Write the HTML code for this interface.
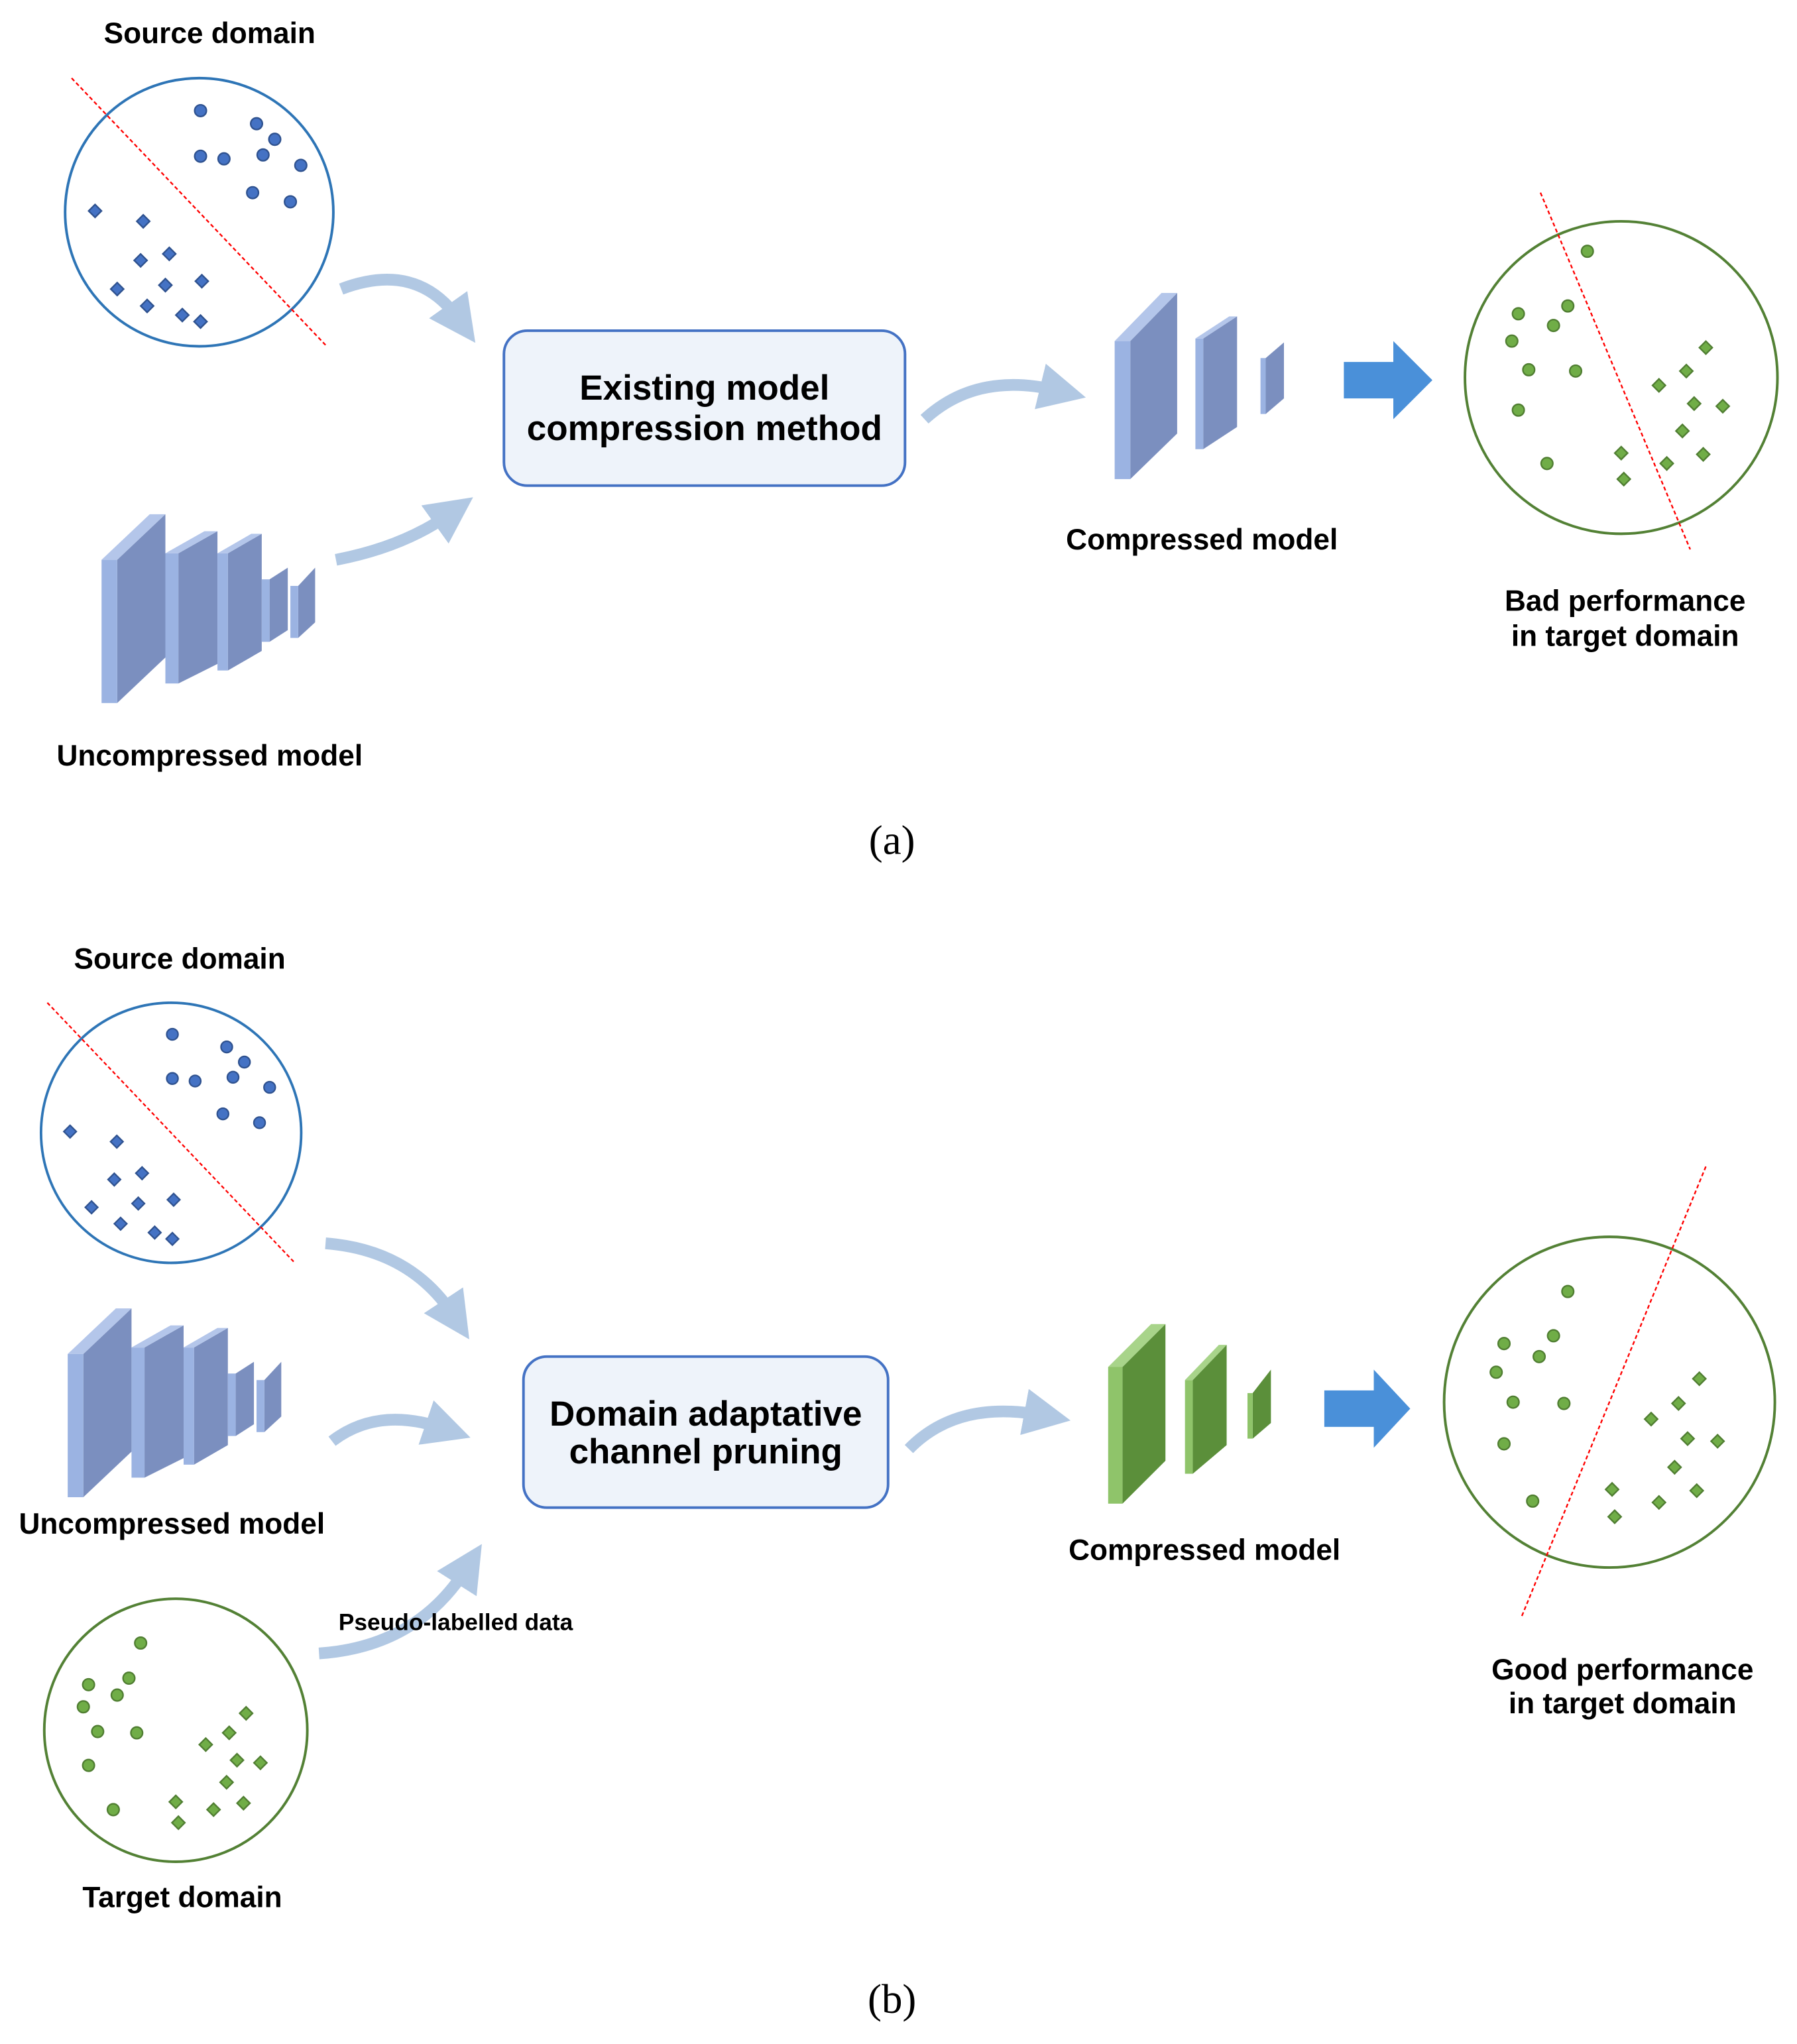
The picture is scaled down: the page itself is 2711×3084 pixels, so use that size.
<!DOCTYPE html>
<html><head><meta charset="utf-8"><style>
html,body{margin:0;padding:0;background:#fff}
svg{display:block}
text{font-family:"Liberation Sans",sans-serif;font-weight:bold;fill:#000;text-anchor:middle}
</style></head><body>
<svg width="2711" height="3084" viewBox="0 0 1380 1570" preserveAspectRatio="none" xmlns="http://www.w3.org/2000/svg">
<defs>
<marker id="ah" markerWidth="4" markerHeight="4" refX="1.5" refY="2" orient="auto" markerUnits="strokeWidth">
<path d="M0,0 L4,2 L0,4 z" fill="#a9c3e0"/></marker>
<g id="bd"><circle r="4.5" fill="#4472c4" stroke="#2f528f" stroke-width="1.2"/></g>
<g id="bq"><rect x="-3.5" y="-3.5" width="7" height="7" fill="#4472c4" stroke="#2f528f" stroke-width="1.2" transform="rotate(45)"/></g>
<g id="gd"><circle r="4.5" fill="#70ad47" stroke="#507e32" stroke-width="1.2"/></g>
<g id="gq"><rect x="-3.5" y="-3.5" width="7" height="7" fill="#70ad47" stroke="#507e32" stroke-width="1.2" transform="rotate(45)"/></g>
<g id="src">
<circle cx="153" cy="163" r="103" fill="none" stroke="#2e75b6" stroke-width="2"/>
<line x1="55" y1="60" x2="250" y2="265" stroke="#f00" stroke-width="1.2" stroke-dasharray="3,2"/>
<use href="#bd" x="154" y="85"/><use href="#bd" x="197" y="95"/><use href="#bd" x="211" y="107"/><use href="#bd" x="154" y="120"/><use href="#bd" x="172" y="122"/><use href="#bd" x="202" y="119"/><use href="#bd" x="231" y="127"/><use href="#bd" x="194" y="148"/><use href="#bd" x="223" y="155"/>
<use href="#bq" x="73" y="162"/><use href="#bq" x="110" y="170"/><use href="#bq" x="130" y="195"/><use href="#bq" x="108" y="200"/><use href="#bq" x="90" y="222"/><use href="#bq" x="127" y="219"/><use href="#bq" x="155" y="216"/><use href="#bq" x="113" y="235"/><use href="#bq" x="140" y="242"/><use href="#bq" x="154" y="247"/>
</g>
<g id="unc">
<polygon points="90,430 127,395 127,505 90,540" fill="#7b8fbf"/><polygon points="78,430 90,430 90,540 78,540" fill="#9bb3e2"/><polygon points="78,430 115,395 127,395 90,430" fill="#b4c6ea"/>
<polygon points="137,425 167,408 167,510 137,525" fill="#7b8fbf"/><polygon points="127,425 137,425 137,525 127,525" fill="#9bb3e2"/><polygon points="127,425 157,408 167,408 137,425" fill="#b4c6ea"/>
<polygon points="175,425 201,410 201,500 175,515" fill="#7b8fbf"/><polygon points="167,425 175,425 175,515 167,515" fill="#9bb3e2"/><polygon points="167,425 193,410 201,410 175,425" fill="#b4c6ea"/>
<polygon points="207,445 221,436 221,484 207,493" fill="#7b8fbf"/><polygon points="201,445 207,445 207,493 201,493" fill="#9bb3e2"/>
<polygon points="229,450 242,436 242,478 229,490" fill="#7b8fbf"/><polygon points="223,450 229,450 229,490 223,490" fill="#9bb3e2"/>
</g>
</defs>

<!-- (a) -->
<text x="161" y="33" font-size="22.5">Source domain</text>
<use href="#src"/>
<path d="M262,222 Q320,200 352,245" fill="none" stroke="#a9c3e0" stroke-width="9" marker-end="url(#ah)" opacity="0.9"/>
<path d="M258,430 Q310,420 345,395" fill="none" stroke="#a9c3e0" stroke-width="9" marker-end="url(#ah)" opacity="0.9"/>
<rect x="387" y="254" width="308" height="119" rx="18" fill="#eef3fa" stroke="#4472c4" stroke-width="2"/>
<text x="541" y="307" font-size="27">Existing model</text>
<text x="541" y="338" font-size="27">compression method</text>
<path d="M710,322 Q750,285 812,300" fill="none" stroke="#a9c3e0" stroke-width="9" marker-end="url(#ah)" opacity="0.9"/>
<polygon points="868,262 904,225 904,333 868,368" fill="#7b8fbf"/><polygon points="856,262 868,262 868,368 856,368" fill="#9bb3e2"/><polygon points="856,262 892,225 904,225 868,262" fill="#b4c6ea"/>
<polygon points="924,260 950,243 950,328 924,345" fill="#7b8fbf"/><polygon points="918,260 924,260 924,345 918,345" fill="#9bb3e2"/><polygon points="918,260 944,243 950,243 924,260" fill="#b4c6ea"/>
<polygon points="972,275 986,263 986,306 972,318" fill="#7b8fbf"/><polygon points="968,275 972,275 972,318 968,318" fill="#9bb3e2"/>
<text x="923" y="422" font-size="22.5">Compressed model</text>
<polygon points="1032,278 1070,278 1070,262 1100,292 1070,322 1070,306 1032,306" fill="#4a90d9"/>
<circle cx="1245" cy="290" r="120" fill="none" stroke="#538135" stroke-width="2"/>
<line x1="1183" y1="148" x2="1298" y2="422" stroke="#f00" stroke-width="1.2" stroke-dasharray="3,2"/>
<use href="#gd" x="1219" y="193"/><use href="#gd" x="1166" y="241"/><use href="#gd" x="1193" y="250"/><use href="#gd" x="1204" y="235"/><use href="#gd" x="1161" y="262"/><use href="#gd" x="1174" y="284"/><use href="#gd" x="1210" y="285"/><use href="#gd" x="1166" y="315"/><use href="#gd" x="1188" y="356"/>
<use href="#gq" x="1310" y="267"/><use href="#gq" x="1295" y="285"/><use href="#gq" x="1274" y="296"/><use href="#gq" x="1301" y="310"/><use href="#gq" x="1323" y="312"/><use href="#gq" x="1292" y="331"/><use href="#gq" x="1245" y="348"/><use href="#gq" x="1280" y="356"/><use href="#gq" x="1308" y="349"/><use href="#gq" x="1247" y="368"/>
<text x="1248" y="469" font-size="22.5">Bad performance</text>
<text x="1248" y="496" font-size="22.5">in target domain</text>
<use href="#unc"/>
<text x="161" y="588" font-size="22.5">Uncompressed model</text>
<text x="685" y="656" font-size="32" style="font-family:'Liberation Serif',serif;font-weight:normal">(a)</text>

<!-- (b) -->
<text x="138" y="744" font-size="22.5">Source domain</text>
<g transform="translate(-17,712) scale(0.97)"><use href="#src"/></g>
<path d="M250,955 Q315,960 348,1010" fill="none" stroke="#a9c3e0" stroke-width="9" marker-end="url(#ah)" opacity="0.9"/>
<path d="M255,1107 Q290,1080 340,1097" fill="none" stroke="#a9c3e0" stroke-width="9" marker-end="url(#ah)" opacity="0.9"/>
<path d="M245,1270 Q320,1265 358,1205" fill="none" stroke="#a9c3e0" stroke-width="9" marker-end="url(#ah)" opacity="0.9"/>
<text x="350" y="1252" font-size="18">Pseudo-labelled data</text>
<g transform="translate(-26,610)"><use href="#unc"/></g>
<text x="132" y="1178" font-size="22.5">Uncompressed model</text>
<circle cx="135" cy="1329" r="101" fill="none" stroke="#538135" stroke-width="2"/>
<use href="#gd" x="108" y="1262"/><use href="#gd" x="68" y="1294"/><use href="#gd" x="99" y="1289"/><use href="#gd" x="90" y="1302"/><use href="#gd" x="64" y="1311"/><use href="#gd" x="75" y="1330"/><use href="#gd" x="105" y="1331"/><use href="#gd" x="68" y="1356"/><use href="#gd" x="87" y="1390"/>
<use href="#gq" x="189" y="1316"/><use href="#gq" x="176" y="1331"/><use href="#gq" x="158" y="1340"/><use href="#gq" x="182" y="1352"/><use href="#gq" x="200" y="1354"/><use href="#gq" x="174" y="1369"/><use href="#gq" x="135" y="1384"/><use href="#gq" x="164" y="1390"/><use href="#gq" x="187" y="1385"/><use href="#gq" x="137" y="1400"/>
<text x="140" y="1465" font-size="22.5">Target domain</text>
<rect x="402" y="1042" width="280" height="116" rx="18" fill="#eef3fa" stroke="#4472c4" stroke-width="2"/>
<text x="542" y="1095" font-size="27">Domain adaptative</text>
<text x="542" y="1124" font-size="27">channel pruning</text>
<path d="M698,1113 Q735,1075 800,1087" fill="none" stroke="#a9c3e0" stroke-width="9" marker-end="url(#ah)" opacity="0.9"/>
<polygon points="862,1050 895,1017 895,1122 862,1155" fill="#5b8f3a"/><polygon points="851,1050 862,1050 862,1155 851,1155" fill="#8fc46a"/><polygon points="851,1050 884,1017 895,1017 862,1050" fill="#a8d48a"/>
<polygon points="916,1060 942,1033 942,1110 916,1132" fill="#5b8f3a"/><polygon points="910,1060 916,1060 916,1132 910,1132" fill="#8fc46a"/><polygon points="910,1060 936,1033 942,1033 916,1060" fill="#a8d48a"/>
<polygon points="962,1070 976,1052 976,1093 962,1105" fill="#5b8f3a"/><polygon points="958,1070 962,1070 962,1105 958,1105" fill="#8fc46a"/>
<text x="925" y="1198" font-size="22.5">Compressed model</text>
<polygon points="1017,1068 1055,1068 1055,1052 1083,1082 1055,1112 1055,1096 1017,1096" fill="#4a90d9"/>
<circle cx="1236" cy="1077" r="127" fill="none" stroke="#538135" stroke-width="2"/>
<line x1="1310" y1="896" x2="1168" y2="1243" stroke="#f00" stroke-width="1.2" stroke-dasharray="3,2"/>
<use href="#gd" x="1204" y="992"/><use href="#gd" x="1155" y="1032"/><use href="#gd" x="1193" y="1026"/><use href="#gd" x="1182" y="1042"/><use href="#gd" x="1149" y="1054"/><use href="#gd" x="1162" y="1077"/><use href="#gd" x="1201" y="1078"/><use href="#gd" x="1155" y="1109"/><use href="#gd" x="1177" y="1153"/>
<use href="#gq" x="1305" y="1059"/><use href="#gq" x="1289" y="1078"/><use href="#gq" x="1268" y="1090"/><use href="#gq" x="1296" y="1105"/><use href="#gq" x="1319" y="1107"/><use href="#gq" x="1286" y="1127"/><use href="#gq" x="1238" y="1144"/><use href="#gq" x="1274" y="1154"/><use href="#gq" x="1303" y="1145"/><use href="#gq" x="1240" y="1165"/>
<text x="1246" y="1290" font-size="22.5">Good performance</text>
<text x="1246" y="1316" font-size="22.5">in target domain</text>
<text x="685" y="1546" font-size="32" style="font-family:'Liberation Serif',serif;font-weight:normal">(b)</text>
</svg>
</body></html>
